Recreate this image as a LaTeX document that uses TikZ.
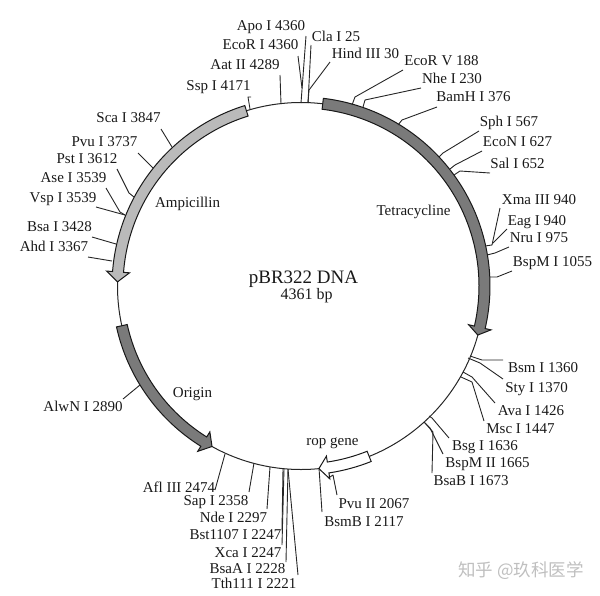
\documentclass[tikz,border=0pt]{standalone}
\usepackage{fontspec}
\setmainfont{Liberation Serif}
\newfontfamily\cjk{Noto Sans CJK SC}
\tikzset{
  lab/.style={inner sep=0pt,text height=10pt,text depth=0pt,font=\fontsize{15}{15}\selectfont,text=black!90},
  tick/.style={draw=black!85,line width=0.9pt,line join=round},
  gene/.style={draw=black!90,line width=1pt,line join=miter},
  ring/.style={draw=black!85,line width=1pt}
}
% #1 id, #2 text, #3 label centre, #4 free end, #5 rest of the connector
\newcommand\site[5]{\node[lab] (#1) at (#3) {#2};\coordinate (#1-e) at (#4);\draw[tick] (#1-e) #5;}
% #1 style, #2 start angle, #3 head base angle, #4 tip angle
\newcommand\genearrow[4]{%
  \draw[gene,#1] (#2:178) -- (#2:189) arc[start angle=#2,end angle=#3,radius=189]
    -- (#3:195) -- (#4:183.5) -- (#3:172) -- (#3:178)
    arc[start angle=#3,end angle=#2,radius=178] -- cycle;}
\begin{document}
\begin{tikzpicture}[x=1pt,y=-1pt]
\useasboundingbox (0,0) rectangle (600,595);
\begin{scope}[shift={(301,286)}]
\node[circle,ring,minimum size=367pt,inner sep=0pt] (plasmid) at (0,0) {};
\genearrow{fill=black!27}{-107.3}{-175.6}{-178.7}
\genearrow{fill=black!52}{-83.2}{13}{15.5}
\genearrow{fill=black!52}{167.5}{122}{119}
\genearrow{fill=white}{68.2}{81.5}{84.4}
\end{scope}
\node[lab] (amp) at (187.5,202) {Ampicillin};
\node[lab] (tet) at (413.5,210) {Tetracycline};
\node[lab] (ori) at (192.5,392) {Origin};
\node[lab] (rop) at (332.5,440) {rop gene};
\node[lab,text height=12.5pt,font=\fontsize{19}{19}\selectfont] (name) at (303.5,277.5) {pBR322 DNA};
\node[lab,font=\fontsize{16}{16}\selectfont] (size) at (306.5,294.5) {4361 bp};
\site{apo}{Apo I 4360}{271,25}{306,36}{-- (301,103)}
\site{ecori}{EcoR I 4360}{260.5,44}{298,56}{-- (302,88)}
\site{aat}{Aat II 4289}{245,64}{280,75}{-- (281,104)}
\site{ssp}{Ssp I 4171}{218.5,85}{251,97}{-- (248,97) -- (250,109)}
\site{cla}{Cla I 25}{336,36}{311,45}{-- (308,103)}
\site{hind}{Hind III 30}{365.5,53}{330,62}{-- (309,90) -- (308,103)}
\site{ecorv}{EcoR V 188}{441.5,60}{403,70}{-- (355,97) -- (352,105)}
\site{nhe}{Nhe I 230}{452,78}{421,88}{-- (365,100) -- (363,107)}
\site{bam}{BamH I 376}{473.5,96}{437,107}{-- (402,120) -- (398,125)}
\site{sph}{Sph I 567}{509,121}{479,131}{-- (443,153) -- (439,157)}
\site{econ}{EcoN I 627}{517.5,141}{482,151}{-- (455,165) -- (450,169)}
\site{sal}{Sal I 652}{517.5,163}{490,173}{-- (460,171) -- (454,175)}
\site{xma}{Xma III 940}{539,199}{500,208}{-- (492,245) -- (485,246)}
\site{eag}{Eag I 940}{537,220}{507,229}{-- (493,243)}
\site{nru}{Nru I 975}{539,237}{509,247}{-- (495,253) -- (487,255)}
\site{bspm}{BspM I 1055}{552.5,261}{512,271}{-- (497,277) -- (490,277)}
\site{bsm}{Bsm I 1360}{543,367}{503,360}{-- (482,360) -- (470,356)}
\site{sty}{Sty I 1370}{536.5,387}{503,379}{-- (480,363) -- (468,358)}
\site{ava}{Ava I 1426}{531,410}{495,403}{-- (472,377) -- (463,372)}
\site{msc}{Msc I 1447}{520.5,428}{484,421}{-- (472,382) -- (461,377)}
\site{bsg}{Bsg I 1636}{485,445}{449,438}{-- (432,418) -- (429,416)}
\site{bspmii}{BspM II 1665}{487.5,462}{443,454}{-- (430,428) -- (424,422)}
\site{bsab}{BsaB I 1673}{471,480}{432,473}{-- (433,432) -- (425,423)}
\site{pvuii}{Pvu II 2067}{374,503}{337,495}{-- (333,475) -- (330,477)}
\site{bsmb}{BsmB I 2117}{364,521}{322,512}{-- (319,468)}
\site{afl}{Afl III 2474}{179,487.5}{215,490}{-- (225,454)}
\site{sap}{Sap I 2358}{216,500.5}{249,492}{-- (254,463)}
\site{nde}{Nde I 2297}{233.5,517}{267,509}{-- (270,467)}
\site{bst}{Bst1107 I 2247}{235.5,534}{282,530}{-- (283,469)}
\site{xca}{Xca I 2247}{248,552}{282,545}{-- (284,469)}
\site{bsaa}{BsaA I 2228}{247.5,568}{286,562}{-- (288,469)}
\site{tth}{Tth111 I 2221}{254,583}{298,575}{-- (288,469)}
\site{sca}{Sca I 3847}{128.5,117}{161,129}{-- (172,147)}
\site{pvui}{Pvu I 3737}{104.5,141}{138,153}{-- (153,168)}
\site{pst}{Pst I 3612}{87,158}{117,169}{-- (129,193) -- (134,197)}
\site{ase}{Ase I 3539}{73.5,177}{106,188}{-- (120,212) -- (125,215)}
\site{vsp}{Vsp I 3539}{63,197}{96,207}{-- (125,215)}
\site{bsa}{Bsa I 3428}{59.5,226}{92,237}{-- (116,244)}
\site{ahd}{Ahd I 3367}{54,246}{88,257}{-- (112,261)}
\site{alwn}{AlwN I 2890}{83,406}{123,399}{-- (140,385)}
\node[inner sep=0pt,text=black!25,font=\cjk\fontsize{17.5}{17.5}\selectfont] (mark) at (521,571) {知乎 @玖科医学};
\end{tikzpicture}
\end{document}
